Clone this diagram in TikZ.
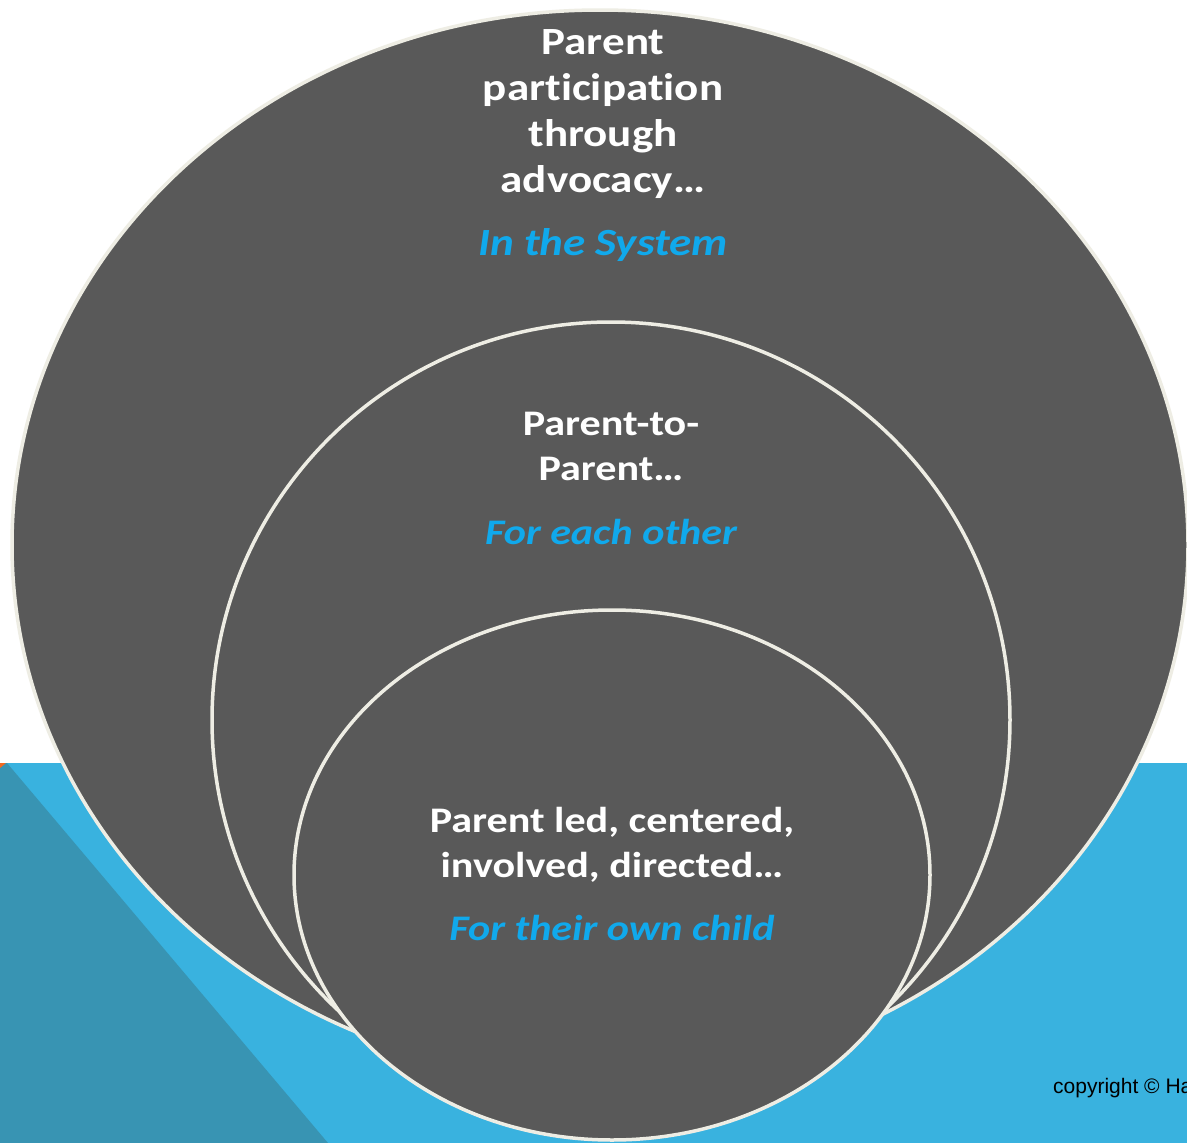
\documentclass[tikz,border=0pt]{standalone}
\usepackage{fontspec}
\setmainfont{Carlito}
\newfontfamily\ringfont{Carlito}[FakeStretch=1.17, Ligatures=NoCommon]
\newfontfamily\copyfont{Liberation Sans}
\usepackage{tikz}
\definecolor{ringgray}{HTML}{595959}
\definecolor{ringline}{HTML}{EEEDE4}
\definecolor{bandblue}{HTML}{39B2DF}
\definecolor{bandteal}{HTML}{3894B3}
\definecolor{bandorange}{HTML}{F26A21}
\definecolor{titleblue}{HTML}{10A9EC}
\def\systemring{(600,545) ellipse (588pt and 535pt)}
\def\peerring{(611,720) ellipse (399pt and 398pt)}
\def\childring{(612,875) ellipse (318pt and 265pt)}
\tikzset{
    ring/.style={fill=ringgray, draw=ringline, line width=3.5pt},
    lead/.style={text=white, font=\ringfont\bfseries\fontsize{36}{45}\selectfont, align=center, inner sep=0pt, anchor=north},
    focus/.style={text=titleblue, font=\ringfont\bfseries\itshape\fontsize{36}{45}\selectfont, inner sep=0pt, anchor=north},
    big/.style={font=\ringfont\bfseries\fontsize{38.5}{46}\selectfont}
}

\begin{document}
\begin{tikzpicture}[x=1pt,y=-1pt]
    \useasboundingbox (0,0) rectangle (1187,1143);
    \fill[white] (0,0) rectangle (1187,1143);
    \fill[bandblue] (0,763) rectangle (1187,1143);
    \fill[bandteal] (0,763) -- (7,763) -- (328,1143) -- (0,1143) -- cycle;
    \fill[bandorange] (0,763) -- (6,763) -- (0,768) -- cycle;
    \draw[ring] \systemring;
    \draw[ring] \peerring;
    \draw[ring] \childring;
    \node[lead, big] (system) at (603,29) {Parent\\participation\\through\\advocacy\dots};
    \node[focus, font=\ringfont\bfseries\itshape\fontsize{38.5}{46}\selectfont] (systemtag) at (603,228) {In the System};
    \node[lead] (peer) at (611,412) {Parent-to-\\Parent\dots};
    \node[focus] (peertag) at (611,519) {For each other};
    \node[lead] (child) at (612,807) {Parent led, centered,\\involved, directed\dots};
    \node[focus] (childtag) at (612,915) {For their own child};
    \node[anchor=base west, inner sep=0pt, font=\copyfont\fontsize{21}{25}\selectfont] (copy) at (1053,1093) {copyright © Ha};
\end{tikzpicture}
\end{document}
